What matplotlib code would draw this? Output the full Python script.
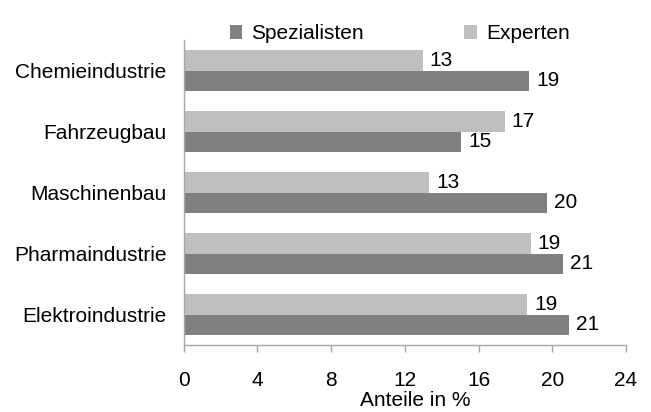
import matplotlib
matplotlib.use("Agg")
import matplotlib.pyplot as plt
import numpy as np

plt.rcParams['font.family'] = ['Liberation Sans', 'DejaVu Sans']

categories = ["Chemieindustrie", "Fahrzeugbau", "Maschinenbau", "Pharmaindustrie", "Elektroindustrie"]
spezialisten = [18.74, 15.05, 19.71, 20.58, 20.91]
experten = [12.97, 17.43, 13.31, 18.84, 18.63]
xticks = [0, 4, 8, 12, 16, 20, 24]
xlabel = "Anteile in %"

c_spez = "#808080"
c_exp = "#BFBFBF"
axis_col = "#A6A6A6"
fs = 15

fig = plt.figure(figsize=(6.51, 4.12), dpi=100)
ax = fig.add_axes([0.2822, 0.1626, 0.6794, 0.7403])

y = np.arange(len(categories))
h = 0.333
b_exp = ax.barh(y - h / 2, experten, height=h, color=c_exp, label="Experten")
b_spez = ax.barh(y + h / 2, spezialisten, height=h, color=c_spez, label="Spezialisten")

for bars, vals in ((b_exp, experten), (b_spez, spezialisten)):
    for rect, v in zip(bars, vals):
        ax.annotate(f"{v:.0f}", (v, rect.get_y() + rect.get_height() / 2),
                    xytext=(5, 0), textcoords="offset points",
                    va="center", ha="left", fontsize=fs, color="black")

ax.set_ylim(len(categories) - 0.5, -0.5)
ax.set_xlim(0, 24)
ax.set_xticks(xticks)
ax.set_xticklabels([str(t) for t in xticks])
ax.set_yticks(y)
ax.set_yticklabels(categories)
ax.tick_params(axis="y", length=0, pad=12.5, labelsize=fs)
ax.tick_params(axis="x", length=5, width=1, color=axis_col, direction="out", pad=14, labelsize=fs)
ax.set_xlabel(xlabel, fontsize=fs, labelpad=0.5, x=0.523)

for s in ("top", "right"):
    ax.spines[s].set_visible(False)
for s in ("left", "bottom"):
    ax.spines[s].set_color(axis_col)
    ax.spines[s].set_linewidth(1)

handles = [b_spez, b_exp]
fig.legend(handles, ["Spezialisten", "Experten"], loc="center", bbox_to_anchor=(0.614, 0.918),
           ncol=2, frameon=False, fontsize=fs, handlelength=0.6, handleheight=0.6,
           handletextpad=0.45, columnspacing=4.8)

fig.savefig("out.png", dpi=100)
